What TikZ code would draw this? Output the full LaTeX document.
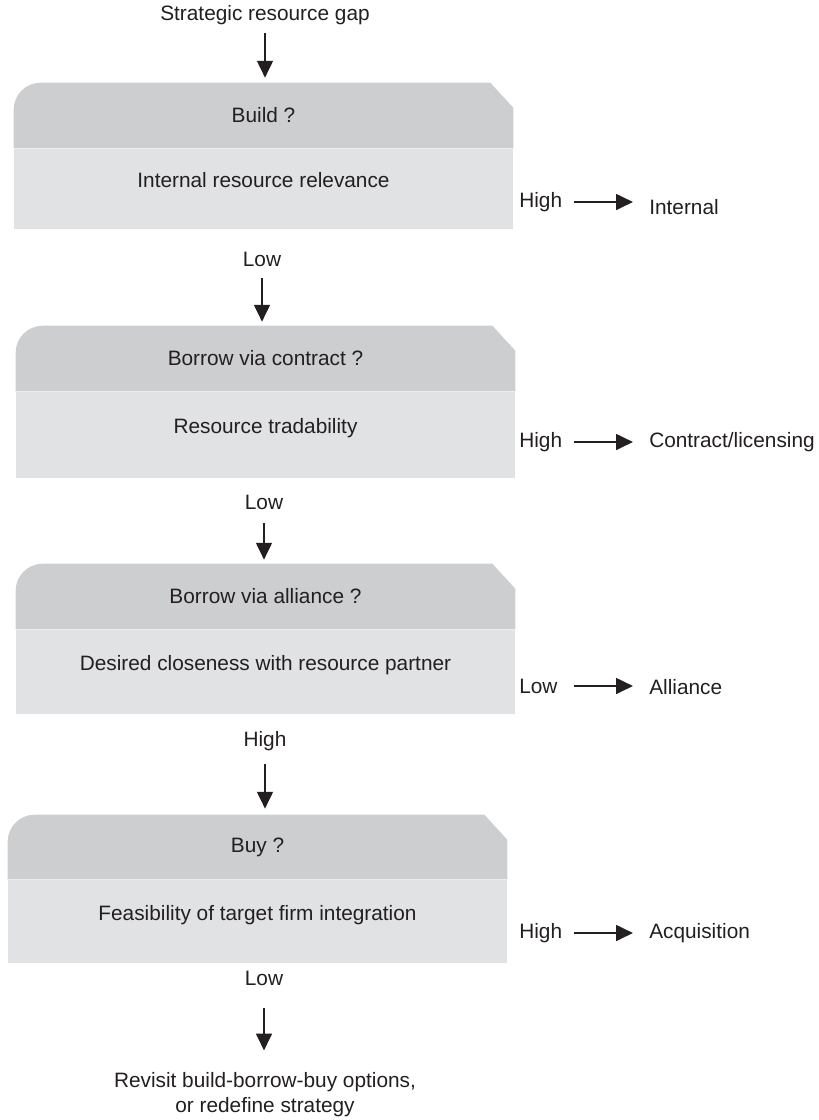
\documentclass[tikz,border=0pt]{standalone}
\usepackage{fontspec}
\setmainfont{Liberation Sans}
\usepackage{tikz}
\usetikzlibrary{arrows.meta,positioning,backgrounds}
\definecolor{headGray}{HTML}{CDCED0}
\definecolor{bodyGray}{HTML}{E1E2E4}
\definecolor{inkGray}{HTML}{231F20}
\tikzset{
  font=\fontsize{14.8pt}{17.8pt}\selectfont,
  % header strip of each question box (its fill is drawn on the background layer)
  headbox/.style={
    minimum width=12.475cm,
    minimum height=1.625cm,
    inner sep=0pt,
    text=inkGray
  },
  bodybox/.style={
    fill=bodyGray,
    minimum width=12.475cm,
    inner sep=0pt,
    text height=0.375cm,
    text depth=0.425cm,
    text=inkGray
  },
  lab/.style={
    inner sep=0pt,
    text=inkGray
  },
  sidelab/.style={
    inner sep=0pt,
    text width=1.35cm,
    align=left,
    anchor=west,
    text=inkGray
  },
  outcome/.style={
    inner ysep=0pt,
    inner xsep=0.4cm,
    anchor=west,
    text=inkGray
  },
  arrow/.style={
    -{Triangle[length=4.2mm,width=3.9mm]},
    line width=1.7pt,
    draw=inkGray
  }
}

\begin{document}
\begin{tikzpicture}[x=0.025cm,y=-0.025cm]
\useasboundingbox (0,0) rectangle (819,1120);

\node[lab] (gap) at (265,15) {Strategic resource gap};

% question boxes
\node[headbox] (head1) at (263.5,115.5) {Build ?};
\node[bodybox, minimum height=2cm, below=0pt of head1] (body1) {Internal resource relevance};

\node[headbox] (head2) at (265.5,358.5) {Borrow via contract ?};
\node[bodybox, minimum height=2.15cm, below=0pt of head2] (body2) {Resource tradability};

\node[headbox] (head3) at (265.5,596.5) {Borrow via alliance ?};
\node[bodybox, minimum height=2.1cm, below=0pt of head3] (body3) {Desired closeness with resource partner};

\node[headbox, minimum height=1.6cm] (head4) at (257.5,847) {Buy ?};
\node[bodybox, minimum height=2.075cm, below=0pt of head4] (body4) {Feasibility of target firm integration};

\begin{scope}[on background layer]
\foreach \h in {head1,head2,head3,head4}
  \fill[headGray] (\h.south west) -- ([yshift=-6.75mm]\h.north west)
    arc[start angle=180,end angle=90,radius=6.75mm]
    -- ([xshift=-5.75mm]\h.north east) -- ([yshift=-6.25mm]\h.north east)
    -- (\h.south east) -- cycle;
\end{scope}

% exits to the right
\node[sidelab] (rate1) at (519,202) {High};
\node[outcome] (out1) at (633,207) {Internal};
\draw[arrow] (rate1.east) -- (rate1.east -| out1.west);

\node[sidelab] (rate2) at (519,442) {High};
\node[outcome] (out2) at (633,442) {Contract/licensing};
\draw[arrow] (rate2.east) -- (rate2.east -| out2.west);

\node[sidelab] (rate3) at (519,686) {Low};
\node[outcome] (out3) at (633,687) {Alliance};
\draw[arrow] (rate3.east) -- (rate3.east -| out3.west);

\node[sidelab] (rate4) at (519,933) {High};
\node[outcome] (out4) at (633,933) {Acquisition};
\draw[arrow] (rate4.east) -- (rate4.east -| out4.west);

% downward path
\node[lab] (low1) at (262,259) {Low};
\node[lab] (low2) at (264,502) {Low};
\node[lab] (high3) at (265,741) {High};
\node[lab] (low4) at (264,978) {Low};
\node[lab, align=center] (revisit) at (265,1095) {Revisit build-borrow-buy options,\\or redefine strategy};

\draw[arrow, shorten <=2.1mm, shorten >=1.25mm] (gap) -- (gap |- head1.north);
\draw[arrow, shorten <=2.9mm, shorten >=1mm] (low1) -- (low1 |- head2.north);
\draw[arrow, shorten <=3.4mm, shorten >=1mm] (low2) -- (low2 |- head3.north);
\draw[arrow, shorten <=3.3mm, shorten >=1.5mm] (high3) -- (high3 |- head4.north);
\draw[arrow, shorten <=5.6mm, shorten >=5.5mm] (low4) -- (low4 |- revisit.north);

\end{tikzpicture}
\end{document}
